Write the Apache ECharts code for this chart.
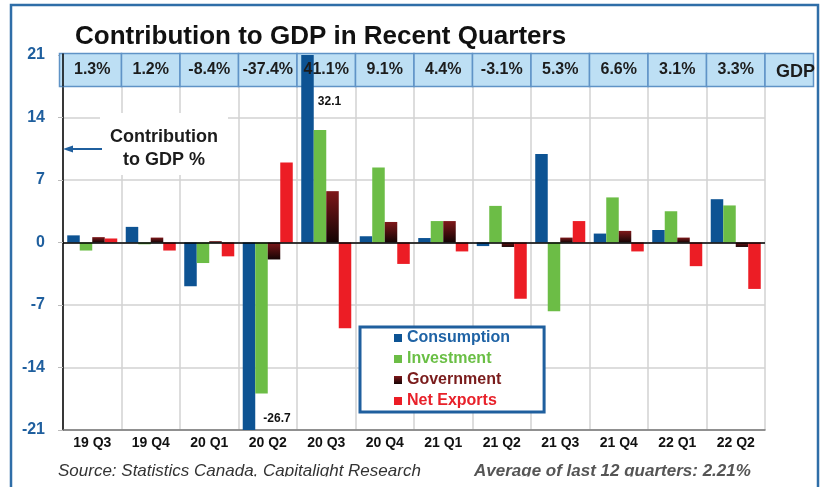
<!DOCTYPE html>
<html><head><meta charset="utf-8">
<script src="https://cdn.jsdelivr.net/npm/echarts/dist/echarts.min.js"></script>
<style>html,body{margin:0;padding:0;background:#fff}#c{width:827px;height:487px}</style>
</head><body><div id="c"></div><script>
const categories = ['19 Q3','19 Q4','20 Q1','20 Q2','20 Q3','20 Q4','21 Q1','21 Q2','21 Q3','21 Q4','22 Q1','22 Q2'];
const consumption = [0.8, 1.75, -4.9, -26.7, 32.1, 0.7, 0.5, -0.4, 9.9, 1.0, 1.4, 4.85];
const investment  = [-0.9, -0.2, -2.3, -16.9, 12.6, 8.4, 2.4, 4.1, -7.7, 5.05, 3.5, 4.15];
const government  = [0.6, 0.55, 0.15, -1.9, 5.75, 2.3, 2.4, -0.5, 0.55, 1.3, 0.55, -0.5];
const netExports  = [0.45, -0.9, -1.55, 8.95, -9.6, -2.4, -1.0, -6.3, 2.4, -1.0, -2.65, -5.2];
const gdpGrowth   = ['1.3%','1.2%','-8.4%','-37.4%','41.1%','9.1%','4.4%','-3.1%','5.3%','6.6%','3.1%','3.3%'];
const gdpLabel = 'GDP';
const yMin = -21, yMax = 21, yStep = 7;
const labelledPoints = { 3: '-26.7', 4: '32.1' };

const FONT = "'Liberation Sans', Arial, sans-serif";
const chart = echarts.init(document.getElementById('c'), null, {renderer: 'canvas'});

const consData = consumption.map((v, i) => {
  if (i === 4) return {value: v, label: {show: true, formatter: labelledPoints[4], position: 'insideTop', offset: [22, 36]}};
  if (i === 3) return {value: v, label: {show: true, formatter: labelledPoints[3], position: 'insideBottom', offset: [28, 0]}};
  return v;
});

const govGradient = new echarts.graphic.LinearGradient(0, 0, 0, 1, [
  {offset: 0, color: '#7f181a'}, {offset: 1, color: '#140404'}
]);

const bandIdx = categories.map((c, i) => [i, 0]);
const BAND_H = 33;

option = {
  animation: false,
  backgroundColor: '#fff',
  grid: {left: 63, right: 62, top: 55, bottom: 57, containLabel: false},
  xAxis: {
    type: 'category', data: categories,
    axisLine: {show: true, onZero: false, lineStyle: {color: '#777', width: 1.5}},
    axisTick: {show: false},
    axisLabel: {color: '#111', fontSize: 14, fontWeight: 'bold', fontFamily: FONT, margin: 6},
    splitLine: {show: true, lineStyle: {color: '#d2d2d2', width: 1.5}}
  },
  yAxis: {
    type: 'value', min: yMin, max: yMax, interval: yStep,
    axisLine: {show: true, lineStyle: {color: '#000', width: 1.5}},
    axisTick: {show: true, length: 5, lineStyle: {color: '#bbb'}},
    axisLabel: {color: '#1f5f9e', fontSize: 16, fontWeight: 'bold', fontFamily: FONT, margin: 18},
    splitLine: {show: true, lineStyle: {color: '#d2d2d2', width: 1.5}}
  },
  legend: {
    orient: 'vertical', left: 360, top: 327,
    padding: [3, 34, 3, 34], itemWidth: 8, itemHeight: 8, itemGap: 5,
    backgroundColor: '#fff', borderColor: '#1f5f9e', borderWidth: 3,
    icon: 'rect',
    textStyle: {fontSize: 16, fontWeight: 'bold', fontFamily: FONT, lineHeight: 16},
    data: [
      {name: 'Consumption', textStyle: {color: '#1f63a5'}},
      {name: 'Investment', textStyle: {color: '#6abf45'}},
      {name: 'Government', textStyle: {color: '#7a1c1c'}},
      {name: 'Net Exports', textStyle: {color: '#e8212a'}}
    ],
    z: 10
  },
  series: [
    {
      type: 'custom', name: 'band', z: 1, silent: true,
      data: bandIdx, encode: {x: 0, y: 1},
      renderItem: function (params, api) {
        const i = api.value(0);
        const cx = api.coord([i, 0])[0];
        const w = api.size([1, 0])[0];
        const top = params.coordSys.y - 1.5;
        const left = i === 0 ? cx - w / 2 - 3.5 : cx - w / 2;
        const width = i === 0 ? w + 3.5 : w;
        const children = [{
          type: 'rect', shape: {x: left, y: top, width: width, height: BAND_H},
          style: {fill: '#bddff4', stroke: '#5f93c6', lineWidth: 1.5}
        }];
        if (i === 0) {
          children.push({type: 'line', shape: {x1: cx - w / 2, y1: top, x2: cx - w / 2, y2: top + BAND_H},
            style: {stroke: '#000', lineWidth: 1.5}});
        }
        if (i === categories.length - 1) {
          children.push({type: 'rect', shape: {x: cx + w / 2, y: top, width: 48.5, height: BAND_H},
            style: {fill: '#bddff4', stroke: '#5f93c6', lineWidth: 1.5}});
        }
        return {type: 'group', children: children};
      }
    },
    {
      name: 'Consumption', type: 'bar', data: consData, z: 2,
      itemStyle: {color: '#0d5393'}, barGap: '0%', barCategoryGap: '14.5%',
      label: {show: false, color: '#111', fontSize: 12, fontWeight: 'bold', fontFamily: FONT},
      markLine: {
        silent: true, symbol: ['none', 'none'],
        lineStyle: {color: '#000', width: 1.5, type: 'solid'},
        label: {show: false}, data: [{yAxis: 0}]
      }
    },
    {name: 'Investment', type: 'bar', data: investment, z: 2, itemStyle: {color: '#6cbd46'}, barGap: '0%', barCategoryGap: '14.5%'},
    {name: 'Government', type: 'bar', data: government, z: 2, itemStyle: {color: govGradient}, barGap: '0%', barCategoryGap: '14.5%'},
    {name: 'Net Exports', type: 'bar', data: netExports, z: 2, itemStyle: {color: '#ec1d25'}, barGap: '0%', barCategoryGap: '14.5%'},
    {
      type: 'custom', name: 'bandText', z: 5, silent: true,
      data: bandIdx, encode: {x: 0, y: 1},
      renderItem: function (params, api) {
        const i = api.value(0);
        const cx = api.coord([i, 0])[0];
        const w = api.size([1, 0])[0];
        const top = params.coordSys.y - 1.5;
        const children = [{
          type: 'text', x: cx, y: top + 16,
          style: {text: gdpGrowth[i], fill: '#1c1c1c', fontSize: 16, fontWeight: 'bold', fontFamily: FONT,
                  align: 'center', verticalAlign: 'middle'}
        }];
        if (i === categories.length - 1) {
          children.push({type: 'text', x: cx + w / 2 + 11, y: top + 19,
            style: {text: gdpLabel, fill: '#1c1c1c', fontSize: 18, fontWeight: 'bold', fontFamily: FONT,
                    align: 'left', verticalAlign: 'middle'}});
        }
        return {type: 'group', children: children};
      }
    }
  ],
  graphic: [
    {type: 'text', left: 75, top: 24, z: 10,
     style: {text: 'Contribution to GDP in Recent Quarters', fill: '#111', fontSize: 26, fontWeight: 'bold', fontFamily: FONT}},
    {type: 'rect', shape: {x: 100, y: 113, width: 128, height: 62}, style: {fill: '#fff'}, z: 10},
    {type: 'text', x: 164, y: 137, z: 11,
     style: {text: 'Contribution', fill: '#1c1c1c', fontSize: 18, fontWeight: 'bold', fontFamily: FONT, align: 'center', verticalAlign: 'middle'}},
    {type: 'text', x: 164, y: 160, z: 11,
     style: {text: 'to GDP %', fill: '#1c1c1c', fontSize: 18, fontWeight: 'bold', fontFamily: FONT, align: 'center', verticalAlign: 'middle'}},
    {type: 'line', shape: {x1: 102, y1: 149, x2: 70, y2: 149}, style: {stroke: '#1f5f9e', lineWidth: 2}, z: 11},
    {type: 'polygon', shape: {points: [[63, 149], [73, 145.5], [73, 152.5]]}, style: {fill: '#1f5f9e'}, z: 11},
    {type: 'text', x: 58, y: 471, z: 10,
     style: {text: 'Source: Statistics Canada, Capitalight Research', fill: '#333', fontSize: 17, fontStyle: 'italic', fontFamily: FONT, verticalAlign: 'middle'}},
    {type: 'text', x: 474, y: 471, z: 10,
     style: {text: 'Average of last 12 quarters: 2.21%', fill: '#555', fontSize: 17, fontStyle: 'italic', fontWeight: 'bold', fontFamily: FONT, verticalAlign: 'middle'}},
    {type: 'rect', shape: {x: 14, y: 476.5, width: 802, height: 12}, style: {fill: '#fff'}, z: 12},
    {type: 'rect', shape: {x: 11, y: 5, width: 807, height: 500}, style: {fill: 'none', stroke: '#2f6ea8', lineWidth: 2.5}, z: 13}
  ]
};
chart.setOption(option);
</script></body></html>
